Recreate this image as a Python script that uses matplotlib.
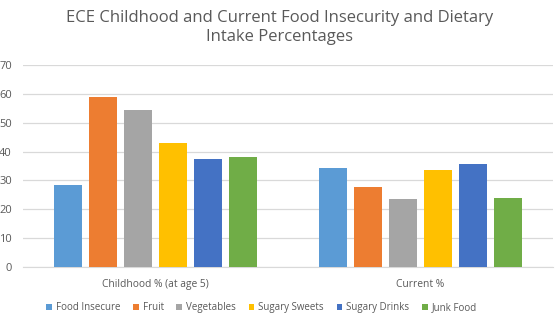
import matplotlib
matplotlib.use("Agg")
import matplotlib.pyplot as plt
import numpy as np

categories = ["Childhood % (at age 5)", "Current %"]
series_names = ["Food Insecure", "Fruit", "Vegetables", "Sugary Sweets", "Sugary Drinks", "Junk Food"]
food_insecure = [28.5, 34.4]
fruit = [59.0, 27.8]
vegetables = [54.5, 23.6]
sugary_sweets = [43.1, 33.7]
sugary_drinks = [37.5, 35.8]
junk_food = [38.2, 24.0]
colors = ["#5B9BD5", "#ED7D31", "#A5A5A5", "#FFC000", "#4472C4", "#70AD47"]
y_ticks = [0, 10, 20, 30, 40, 50, 60, 70]

values = [food_insecure, fruit, vegetables, sugary_sweets, sugary_drinks, junk_food]
plt.rcParams['font.family'] = ['Open Sans', 'DejaVu Sans']
txt = "#595959"

fig = plt.figure(figsize=(5.6, 3.28), dpi=100)
ax = fig.add_axes([0.041, 0.186, 0.946, 0.616])
x = np.arange(len(categories))
step = 0.132
width = 0.106
for i, (name, vals, c) in enumerate(zip(series_names, values, colors)):
    ax.bar(x + (i - 2.5) * step, vals, width, color=c, label=name, zorder=3)

ax.set_xlim(-0.5, 1.5)
ax.set_ylim(0, 70)
ax.set_yticks(y_ticks)
ax.set_xticks(x)
ax.set_xticklabels(categories)
ax.grid(axis='y', color='#D9D9D9', linewidth=0.9, zorder=0)
for s in ['top', 'right', 'left']:
    ax.spines[s].set_visible(False)
ax.spines['bottom'].set_color('#D9D9D9')
ax.tick_params(axis='both', length=0, colors=txt)
ax.tick_params(axis='x', labelsize=7.4, pad=9)
ax.tick_params(axis='y', labelsize=8, pad=8)

fig.suptitle("ECE Childhood and Current Food Insecurity and Dietary\nIntake Percentages",
             x=0.5, y=0.97, fontsize=12, color=txt, linespacing=1.25)

fig.legend(loc='center', bbox_to_anchor=(0.467, 0.062), ncol=6, frameon=False,
           fontsize=7, handlelength=0.6, handleheight=0.6, handletextpad=0.4,
           columnspacing=1.3, labelcolor=txt)

fig.savefig("out.png", dpi=100)
